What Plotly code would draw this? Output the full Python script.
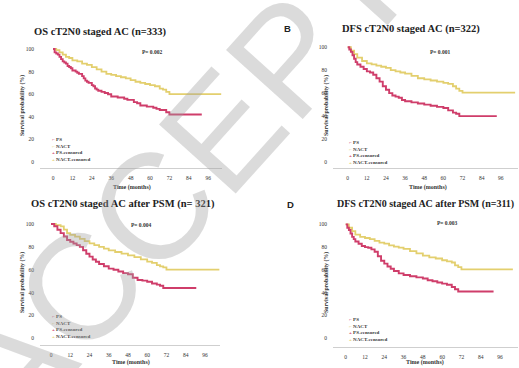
import plotly.graph_objects as go

W, H = 519, 368
RED = "#cf3d6a"
YEL = "#e3cf6e"

# ---------------- data (months, survival %) ----------------
# Panel A: OS cT2N0 staged AC (n=333)
a_ps_t = [0, 1, 2, 3, 4, 5, 6, 7, 8, 9, 10, 11, 12, 14, 15, 16, 18, 19, 20, 21, 22, 24, 25, 26, 27, 28, 30, 32, 34, 36,
          38, 40, 42, 44, 46, 48, 50, 52, 54, 56, 58, 60, 62, 64, 66, 68, 70, 72, 92]
a_ps_s = [100, 97, 96, 95, 93, 91, 89, 88, 87, 85, 84, 83, 81, 80, 79, 78, 76, 74, 72, 71, 70, 68, 67, 65, 64, 63, 62, 61,
          60, 58, 58, 57, 57, 56, 55, 55, 53, 52, 50, 50, 49, 49, 48, 47, 46, 46, 44, 42, 42]
a_nact_t = [0, 2, 4, 6, 8, 10, 12, 15, 18, 21, 24, 27, 30, 33, 36, 39, 42, 45, 48, 51, 54, 57, 60, 63, 66, 68, 70, 72, 104]
a_nact_s = [100, 99, 97, 95, 93, 92, 90, 89, 87, 86, 84, 82, 80, 78, 77, 76, 75, 74, 72.5, 71, 70, 69, 68, 67, 65, 64, 62,
            60, 60]

# Panel B: DFS cT2N0 staged AC (n=322)
b_ps_t = [0, 1, 2, 3, 4, 5, 6, 8, 10, 12, 14, 16, 18, 20, 22, 24, 26, 28, 30, 32, 34, 36, 40, 44, 48, 52, 56, 60, 63, 66,
          68, 70, 93.5]
b_ps_s = [100, 98, 96, 93, 90, 87, 85, 83, 81, 79, 78, 76, 73, 70, 66, 63, 60, 58, 57, 56, 54, 53, 52, 51, 50, 49, 48, 47,
          45, 43, 42, 40, 40]
b_nact_t = [0, 2, 4, 6, 9, 12, 15, 18, 21, 24, 27, 30, 33, 36, 40, 44, 48, 52, 56, 60, 63, 66, 68, 70, 72, 105]
b_nact_s = [100, 97, 94, 91, 88, 86, 85, 84, 83, 82, 80, 79, 78, 77, 75, 73, 72, 71, 70, 69, 68, 66, 64, 62, 60.5, 60.5]

# Panel C: OS cT2N0 staged AC after PSM (n=321)
c_ps_t = [0, 2, 4, 6, 8, 10, 12, 14, 16, 18, 20, 22, 24, 26, 28, 30, 33, 36, 39, 42, 45, 48, 51, 54, 57, 60, 63, 66, 68,
          70, 90.6]
c_ps_s = [100, 98, 95, 92, 89, 86, 84.5, 83, 81.5, 80, 77, 74, 71.5, 69, 67, 65, 63, 61, 60, 58.5, 57, 56, 53, 51, 50.5,
          49.5, 48, 47, 46, 44, 44]
c_nact_t = [0, 3, 6, 8, 10, 12, 15, 18, 21, 24, 27, 30, 33, 36, 40, 44, 48, 52, 56, 60, 63, 66, 68, 70, 72, 105]
c_nact_s = [100, 99, 98, 95, 92, 90.5, 89, 87, 85, 83, 81.5, 80, 78.5, 77, 75.5, 74, 72.5, 71, 69, 67, 66, 64, 63, 62, 60,
            60]

# Panel D: DFS cT2N0 staged AC after PSM (n=311)
d_ps_t = [0, 1, 2, 3, 4, 5, 6, 8, 10, 12, 14, 16, 18, 20, 22, 24, 26, 28, 30, 33, 36, 40, 44, 48, 51, 54, 57, 60, 63, 66,
          68, 70, 92]
d_ps_s = [100, 97, 95, 92, 89, 87, 85, 83, 81, 80, 79.5, 78, 76, 72, 68, 65.5, 63, 61, 59, 57, 55.5, 54.5, 53.5, 52.5, 51,
          50, 49, 48, 47, 45, 43, 41, 41]
d_nact_t = [0, 2, 4, 6, 9, 12, 15, 18, 21, 24, 27, 30, 33, 36, 40, 44, 48, 52, 56, 60, 63, 66, 68, 70, 72, 104]
d_nact_s = [100, 97, 94, 91, 89, 88, 87, 85.5, 84, 83, 81.5, 80.5, 79.5, 78.5, 76.5, 74.5, 72.5, 71, 70, 68.5, 67.5, 66.5,
            64, 62.5, 60.5, 60.5]

titles = ["OS cT2N0 staged AC (n=333)", "DFS cT2N0 staged AC (n=322)",
          "OS cT2N0 staged AC after PSM (n= 321)", "DFS cT2N0 staged AC after PSM (n=311)"]
pvals = ["P= 0.002", "P= 0.001", "P= 0.004", "P= 0.003"]
panel_letters = ["", "B", "", "D"]
x_ticks = [0, 12, 24, 36, 48, 60, 72, 84, 96]
y_ticks = [0, 20, 40, 60, 80, 100]
legend_names = ["PS", "NACT", "PS-censored", "NACT-censored"]

series = [(a_ps_t, a_ps_s, a_nact_t, a_nact_s),
          (b_ps_t, b_ps_s, b_nact_t, b_nact_s),
          (c_ps_t, c_ps_s, c_nact_t, c_nact_s),
          (d_ps_t, d_ps_s, d_nact_t, d_nact_s)]

# ---------------- layout geometry (pixels) ----------------
dom_x = [(40, 222), (333, 518), (40, 220), (333, 518)]
dom_y = [(44, 168), (43, 168.3), (220, 345), (220, 347)]
x_rng = [(-8.04, 104.5), (-9.22, 106.8), (-6.86, 105.4), (-7.9, 107.2)]
y_rng = [(-5.31, 104.4), (-5.49, 103.7), (-5.86, 103.5), (-7.63, 103.8)]
title_pos = [(100, 32), (411, 29), (123, 204), (425, 204)]
title_size = [10.5, 10.5, 10.5, 10]
letter_pos = [None, (288, 29), None, (290, 204)]
p_pos = [(152, 52), (440, 52), (141, 224.5), (447, 223)]
ytitle_pos = [(22, 106), (326, 106), (22, 283), (326, 283)]
xtitle_pos = [(132, 187), (428, 187), (131, 362), (425, 362)]
legend_pos = [(50, 150), (347, 152), (50, 326), (347, 329)]

SERIF = "Liberation Serif, Times New Roman, serif"


def px(x):
    return x / W


def py(y):
    return 1 - y / H


fig = go.Figure()
annotations = []
layout_axes = {}

for i in range(4):
    n = "" if i == 0 else str(i + 1)
    xa, ya = "x" + n, "y" + n
    pt, ps, nt, ns = series[i]
    fig.add_trace(go.Scatter(x=nt, y=ns, mode="lines", line=dict(color=YEL, width=1.8, shape="hv"),
                             xaxis=xa, yaxis=ya, showlegend=False, hoverinfo="skip"))
    fig.add_trace(go.Scatter(x=pt, y=ps, mode="lines", line=dict(color=RED, width=1.9, shape="hv"),
                             xaxis=xa, yaxis=ya, showlegend=False, hoverinfo="skip"))

    layout_axes["xaxis" + n] = dict(
        domain=[px(dom_x[i][0]), px(dom_x[i][1])], range=list(x_rng[i]), anchor=ya,
        tickmode="array", tickvals=x_ticks, ticktext=[str(v) for v in x_ticks],
        showgrid=False, zeroline=False, showline=True, linecolor="#cfcfcf", linewidth=1,
        ticks="outside", ticklen=4, tickcolor="rgba(0,0,0,0)",
        tickfont=dict(family=SERIF, size=5.5, color="#333"))
    layout_axes["yaxis" + n] = dict(
        domain=[py(dom_y[i][1]), py(dom_y[i][0])], range=list(y_rng[i]), anchor=xa,
        tickmode="array", tickvals=y_ticks, ticktext=[str(v) for v in y_ticks],
        showgrid=False, zeroline=False, showline=False,
        ticks="outside", ticklen=4, tickcolor="rgba(0,0,0,0)",
        tickfont=dict(family=SERIF, size=5.5, color="#333"))

    tx, ty = title_pos[i]
    annotations.append(dict(text="<b>%s</b>" % titles[i], x=px(tx), y=py(ty), xref="paper", yref="paper",
                            showarrow=False, xanchor="center", yanchor="middle",
                            font=dict(family=SERIF, size=title_size[i], color="#222")))
    if letter_pos[i]:
        lx, ly = letter_pos[i]
        annotations.append(dict(text="<b>%s</b>" % panel_letters[i], x=px(lx), y=py(ly), xref="paper",
                                yref="paper", showarrow=False, xanchor="center", yanchor="middle",
                                font=dict(family="Liberation Sans, Arial", size=9.5, color="#222")))
    ppx, ppy = p_pos[i]
    annotations.append(dict(text="<b>%s</b>" % pvals[i], x=px(ppx), y=py(ppy), xref="paper", yref="paper",
                            showarrow=False, xanchor="center", yanchor="middle",
                            font=dict(family=SERIF, size=5.5, color="#333")))
    yx, yy = ytitle_pos[i]
    annotations.append(dict(text="<b>Survival probability (%)</b>", x=px(yx), y=py(yy), xref="paper",
                            yref="paper", showarrow=False, textangle=-90, xanchor="center", yanchor="middle",
                            font=dict(family=SERIF, size=5.8, color="#333")))
    xx, xy = xtitle_pos[i]
    annotations.append(dict(text="<b>Time (months)</b>", x=px(xx), y=py(xy), xref="paper", yref="paper",
                            showarrow=False, xanchor="center", yanchor="middle",
                            font=dict(family=SERIF, size=6, color="#333")))
    lgx, lgy = legend_pos[i]
    sym = ["⌐", "⌐", "+", "+"]
    cols = [RED, YEL, RED, YEL]
    lines = ["<span style='color:%s'>%s</span> %s" % (cols[k], sym[k], legend_names[k]) for k in range(4)]
    annotations.append(dict(text="<b>" + "<br>".join(lines) + "</b>", x=px(lgx), y=py(lgy), xref="paper",
                            yref="paper", showarrow=False, xanchor="left", yanchor="middle", align="left",
                            font=dict(family=SERIF, size=5, color="#333")))

# faint diagonal watermark of the source page
annotations.append(dict(text="ACCEPTED", x=px(250), y=py(100), xref="paper", yref="paper", showarrow=False,
                        textangle=-48, xanchor="center", yanchor="middle",
                        font=dict(family="Liberation Sans, Arial", size=150, color="rgba(160,160,160,0.38)")))

fig.update_layout(width=W, height=H, margin=dict(l=0, r=0, t=0, b=0), paper_bgcolor="white",
                  plot_bgcolor="white", showlegend=False, annotations=annotations, **layout_axes)

fig.write_html("out.html", config={"displayModeBar": False},
               post_script="document.body.style.margin='0';document.body.style.overflow='hidden';")
